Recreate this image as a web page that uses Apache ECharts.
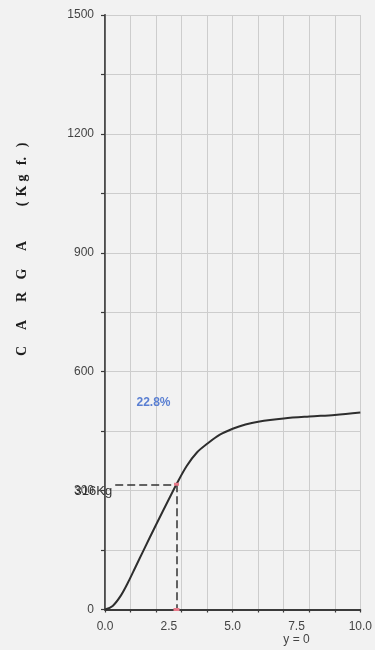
<!DOCTYPE html>
<html>
<head>
<meta charset="utf-8">
<script src="https://cdn.jsdelivr.net/npm/echarts@6/dist/echarts.min.js"></script>
<style>
html,body{margin:0;padding:0;background:#f2f2f2;}
#c{width:375px;height:650px;}
</style>
</head>
<body>
<div id="c"></div>
<script>
// Data
const strainX = [0, 0.3, 0.6, 0.9, 1.2, 1.5, 2.0, 2.5, 2.8, 3.2, 3.6, 4.0, 4.5, 5.0, 5.5, 6.0, 7.0, 8.0, 9.0, 10.0];
const loadY   = [0, 9, 33, 68, 108, 148, 214, 278, 316, 362, 396, 418, 441, 456, 467, 474, 482, 487, 491, 497];
const yTicks = [0, 300, 600, 900, 1200, 1500];
const xTicks = [0, 2.5, 5, 7.5, 10];
const markLoad = 316;
const markStrain = 2.8;
const markLabel = '316Kg';
const pctLabel = '22.8%';
const pctPos = [1.9, 523];
const xNote = 'y = 0';
const yTitleChars = [['C',351],['A',325],['R',297],['G',274],['A',246],['(',204],['K',191],['g',178],['f.',161],[')',145]];

const chart = echarts.init(document.getElementById('c'));
const font = '"Liberation Sans", Arial, sans-serif';
const axisColor = '#3a3a3a';
const gridColor = '#cdcdcd';

chart.setOption({
  backgroundColor: '#f2f2f2',
  animation: false,
  grid: {left: 105, right: 12, top: 15, bottom: 40.5},
  xAxis: [
    {
      type: 'value', min: 0, max: 10, interval: 2.5, position: 'bottom',
      axisLine: {show: true, lineStyle: {color: axisColor, width: 1.8}},
      axisTick: {show: false},
      splitLine: {show: false},
      axisLabel: {
        color: '#444', fontSize: 12, fontFamily: font, margin: 11, lineHeight: 13,
        formatter: v => xTicks.includes(v) ? (v === 7.5 ? v.toFixed(1) + '\n' + xNote : v.toFixed(1)) : ''
      }
    },
    {
      type: 'value', min: 0, max: 10, interval: 1, position: 'bottom',
      axisLine: {show: false},
      axisTick: {show: true, length: 3, lineStyle: {color: axisColor, width: 1.2}},
      axisLabel: {show: false},
      splitLine: {show: true, lineStyle: {color: gridColor, width: 1}}
    }
  ],
  yAxis: [
    {
      type: 'value', min: 0, max: 1500, interval: 150, position: 'left',
      axisLine: {show: true, lineStyle: {color: axisColor, width: 1.8}},
      axisTick: {show: true, length: 4, lineStyle: {color: axisColor, width: 1.2}},
      axisLabel: {
        color: '#444', fontSize: 12, fontFamily: font, margin: 11,
        formatter: v => yTicks.includes(v) ? String(v) : ''
      },
      splitLine: {show: true, lineStyle: {color: gridColor, width: 1}}
    },
    {
      type: 'value', min: 0, max: 1500, interval: 1500, position: 'right',
      axisLine: {show: true, lineStyle: {color: '#666', width: 1}},
      axisTick: {show: false}, axisLabel: {show: false}, splitLine: {show: false}
    }
  ],
  series: [{
    type: 'line',
    xAxisIndex: 0, yAxisIndex: 0,
    data: strainX.map((x, i) => [x, loadY[i]]),
    smooth: 0.35,
    showSymbol: false,
    lineStyle: {color: '#2e2e2e', width: 2},
    markLine: {
      silent: true,
      symbol: 'none',
      label: {show: false},
      lineStyle: {color: '#333', width: 1.5, type: [8, 4]},
      data: [
        [{coord: [0.4, markLoad]}, {coord: [markStrain, markLoad]}],
        [{coord: [markStrain, markLoad]}, {coord: [markStrain, 0]}]
      ]
    },
    markPoint: {
      silent: true,
      data: [
        {coord: pctPos, symbol: 'circle', symbolSize: 0,
         label: {show: true, position: 'inside', formatter: pctLabel, color: '#5a7fd2', fontSize: 12, fontWeight: 'bold', fontFamily: font}},
        {coord: [0.4, markLoad], symbol: 'circle', symbolSize: 0,
         label: {show: true, position: 'left', distance: 3, offset: [0, 7], formatter: markLabel, color: '#333', fontSize: 13, fontFamily: font}},
        {coord: [markStrain, markLoad], symbol: 'rect', symbolSize: [5, 3], itemStyle: {color: '#e87a8a'}, label: {show: false}},
        {coord: [markStrain, 0], symbol: 'rect', symbolSize: [6, 3], itemStyle: {color: '#e87a8a'}, label: {show: false}}
      ]
    }
  }],
  graphic: yTitleChars.map(([ch, y]) => ({
    type: 'text', x: 22, y: y, rotation: Math.PI / 2,
    style: {text: ch, fill: '#1e1e1e', font: 'bold 14px "Liberation Serif", serif', align: 'center', verticalAlign: 'middle'}
  }))
});
</script>
</body>
</html>
